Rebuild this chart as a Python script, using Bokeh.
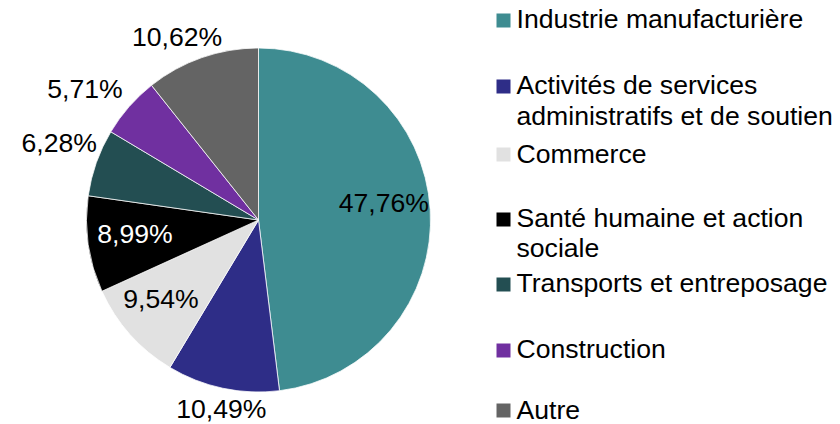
import math
from bokeh.plotting import figure
from bokeh.models import Range1d, ColumnDataSource
from bokeh.core.properties import value
from bokeh.embed import file_html
from bokeh.resources import INLINE

# ---- data ----
categories = [
    "Industrie manufacturière",
    "Activités de services\nadministratifs et de soutien",
    "Commerce",
    "Santé humaine et action\nsociale",
    "Transports et entreposage",
    "Construction",
    "Autre",
]
shares = [47.76, 10.49, 9.54, 8.99, 6.28, 5.71, 10.62]
colors = ["#3E8C91", "#2E2D87", "#E1E1E1", "#000000", "#234E52", "#7030A0", "#646464"]
label_colors = ["black", "black", "black", "white", "black", "black", "black"]

# ---- style / layout ----
W, H = 840, 424
FONT = "Liberation Sans"
FS = "26.6px"
TEXT_DY = -9.5               # correction of rendered baseline
CX, CY = 258, 219.5          # pie centre in picture px
R = 172
# label radius factor and fine offsets (screen px, dx right, dy down)
label_r = [0.73, 1.0, 0.73, 0.73, 1.0, 1.0, 1.0]
label_off = [(0, 0.5), (-1.4, 30.6), (-3.9, 5.3), (0.8, 5.9), (-37.1, -10.4), (-44.1, -7.9), (-24.7, -11.4)]
leg_sq_x = 503
leg_sq_y = [20, 86, 154, 219, 284, 350, 410]
leg_txt_x = 516
leg_base = [28.3, 94, 163.3, 226.7, 291.7, 358.3, 418.5]
line_h = 30.5


def dx(x):
    return x


def dy(y):
    return H - y


p = figure(width=W, height=H, x_range=Range1d(0, W), y_range=Range1d(0, H),
           output_backend="svg", toolbar_location=None, min_border=0)
p.axis.visible = False
p.grid.visible = False
p.outline_line_color = None
p.background_fill_color = "white"
p.border_fill_color = "white"

total = sum(shares)
starts, ends, mids = [], [], []
c = 0.0
for v in shares:
    f0 = c / total
    c += v
    f1 = c / total
    starts.append(math.pi / 2 - 2 * math.pi * f0)
    ends.append(math.pi / 2 - 2 * math.pi * f1)
    mids.append(math.pi / 2 - 2 * math.pi * (f0 + f1) / 2)

src = ColumnDataSource(dict(start=starts, end=ends, color=colors))
p.wedge(x=dx(CX), y=dy(CY), radius=R, start_angle="start", end_angle="end",
        direction="clock", fill_color="color", line_color="white", line_width=0.75,
        source=src)

# percentage labels
lx, ly, lt, xo, yo = [], [], [], [], []
for i, v in enumerate(shares):
    r = R * label_r[i]
    lx.append(dx(CX) + r * math.cos(mids[i]))
    ly.append(dy(CY) + r * math.sin(mids[i]))
    lt.append(f"{v:.2f}".replace(".", ",") + "%")
    xo.append(label_off[i][0])
    yo.append(label_off[i][1] + TEXT_DY)
lsrc = ColumnDataSource(dict(x=lx, y=ly, text=lt, xo=xo, yo=yo, color=label_colors))
p.text(x="x", y="y", text="text", x_offset="xo", y_offset="yo", text_color="color",
       text_font=value(FONT), text_font_size=FS, text_align="center",
       text_baseline="alphabetic", source=lsrc)

# legend
p.rect(x=[dx(leg_sq_x)] * len(categories), y=[dy(v) for v in leg_sq_y], width=14, height=14,
       width_units="screen", height_units="screen", fill_color=colors, line_color=None)
tx, ty, tt = [], [], []
for i, name in enumerate(categories):
    for j, line in enumerate(name.split("\n")):
        tx.append(dx(leg_txt_x))
        ty.append(dy(leg_base[i] + j * line_h + TEXT_DY))
        tt.append(line)
p.text(x=tx, y=ty, text=tt, text_color="black", text_font=value(FONT), text_font_size=FS,
       text_align="left", text_baseline="alphabetic")

open("out.html", "w").write(file_html(p, INLINE))
